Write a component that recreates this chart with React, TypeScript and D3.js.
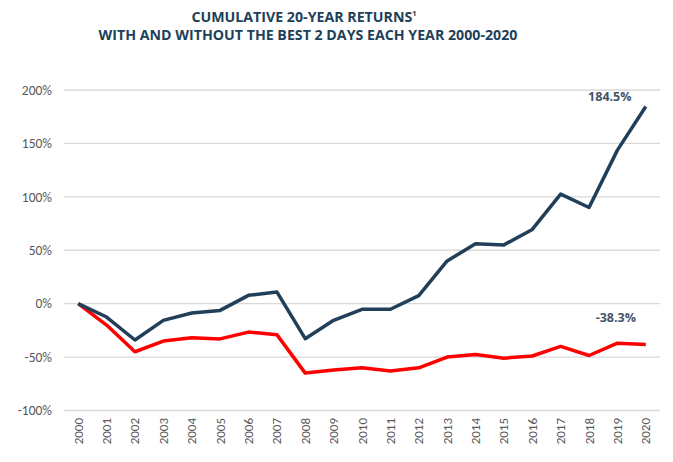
import React from "react";
import * as d3 from "d3";

const years = ["2000","2001","2002","2003","2004","2005","2006","2007","2008","2009","2010","2011","2012","2013","2014","2015","2016","2017","2018","2019","2020"];
const withBest = [0, -12.5, -34, -15.6, -8.8, -6.3, 7.8, 11, -32.8, -15.6, -5.3, -5.2, 7.5, 40, 56, 55, 69.5, 102.5, 90, 143.7, 184.5];
const withoutBest = [0, -20, -45, -35, -32, -33, -26.6, -29, -65, -62, -60, -63, -60, -50, -47.5, -51, -49, -40, -48.5, -37, -38.3];
const yTicks = [-100, -50, 0, 50, 100, 150, 200];
const titleLines = ["CUMULATIVE 20-YEAR RETURNS", "WITH AND WITHOUT THE BEST 2 DAYS EACH YEAR 2000-2020"];

const W = 673, H = 462;
const left = 64, right = 660, top = 90, bottom = 410.5;
const navy = "#213f58";
const red = "#ff0000";
const font = "Calibri, Carlito, 'Open Sans', sans-serif";
const titleFont = "'Open Sans', sans-serif";

export default function App() {
  const x = d3.scalePoint<string>().domain(years).range([left, right]).padding(0.5);
  const y = d3.scaleLinear().domain([-100, 200]).range([bottom, top]);
  const line = d3.line<number>().x((_, i) => x(years[i])!).y(d => y(d));
  const last = years.length - 1;
  return (
    <svg width={W} height={H} style={{ position: "absolute", left: 0, top: 0, background: "#fff" }}>
      <text x={304} y={22} textAnchor="middle" fontFamily={titleFont} fontWeight="bold" fontSize={14.2} fill={navy}>
        {titleLines[0]}
        <tspan fontSize={7.5} dy={-6}>1</tspan>
      </text>
      <text x={308} y={40} textAnchor="middle" fontFamily={titleFont} fontWeight="bold" fontSize={14.2} fill={navy}>
        {titleLines[1]}
      </text>
      {yTicks.map(t => (
        <g key={t}>
          <line x1={left} x2={right} y1={y(t)} y2={y(t)} stroke="#d9d9d9" strokeWidth={1.3} />
          <text x={52} y={y(t)} dy="0.35em" textAnchor="end" fontFamily={font} fontSize={13.5} fill="#595959">{t}%</text>
        </g>
      ))}
      {years.map(yr => (
        <text key={yr} transform={`translate(${x(yr)! + 4.5},${418}) rotate(-90)`} textAnchor="end" fontFamily={font} fontSize={13} fill="#595959">{yr}</text>
      ))}
      <path d={line(withoutBest)!} fill="none" stroke={red} strokeWidth={3.5} strokeLinejoin="round" />
      <path d={line(withBest)!} fill="none" stroke={navy} strokeWidth={3.5} strokeLinejoin="round" />
      <text x={x(years[last])! - 36} y={y(withBest[last]) - 10} dy="0.35em" textAnchor="middle" fontFamily={titleFont} fontWeight="bold" fontSize={12.5} fill="#44546a">
        {withBest[last].toFixed(1)}%
      </text>
      <text x={x(years[last])! - 30} y={y(withoutBest[last]) - 27} dy="0.35em" textAnchor="middle" fontFamily={titleFont} fontWeight="bold" fontSize={12.5} fill="#44546a">
        {withoutBest[last].toFixed(1)}%
      </text>
    </svg>
  );
}
